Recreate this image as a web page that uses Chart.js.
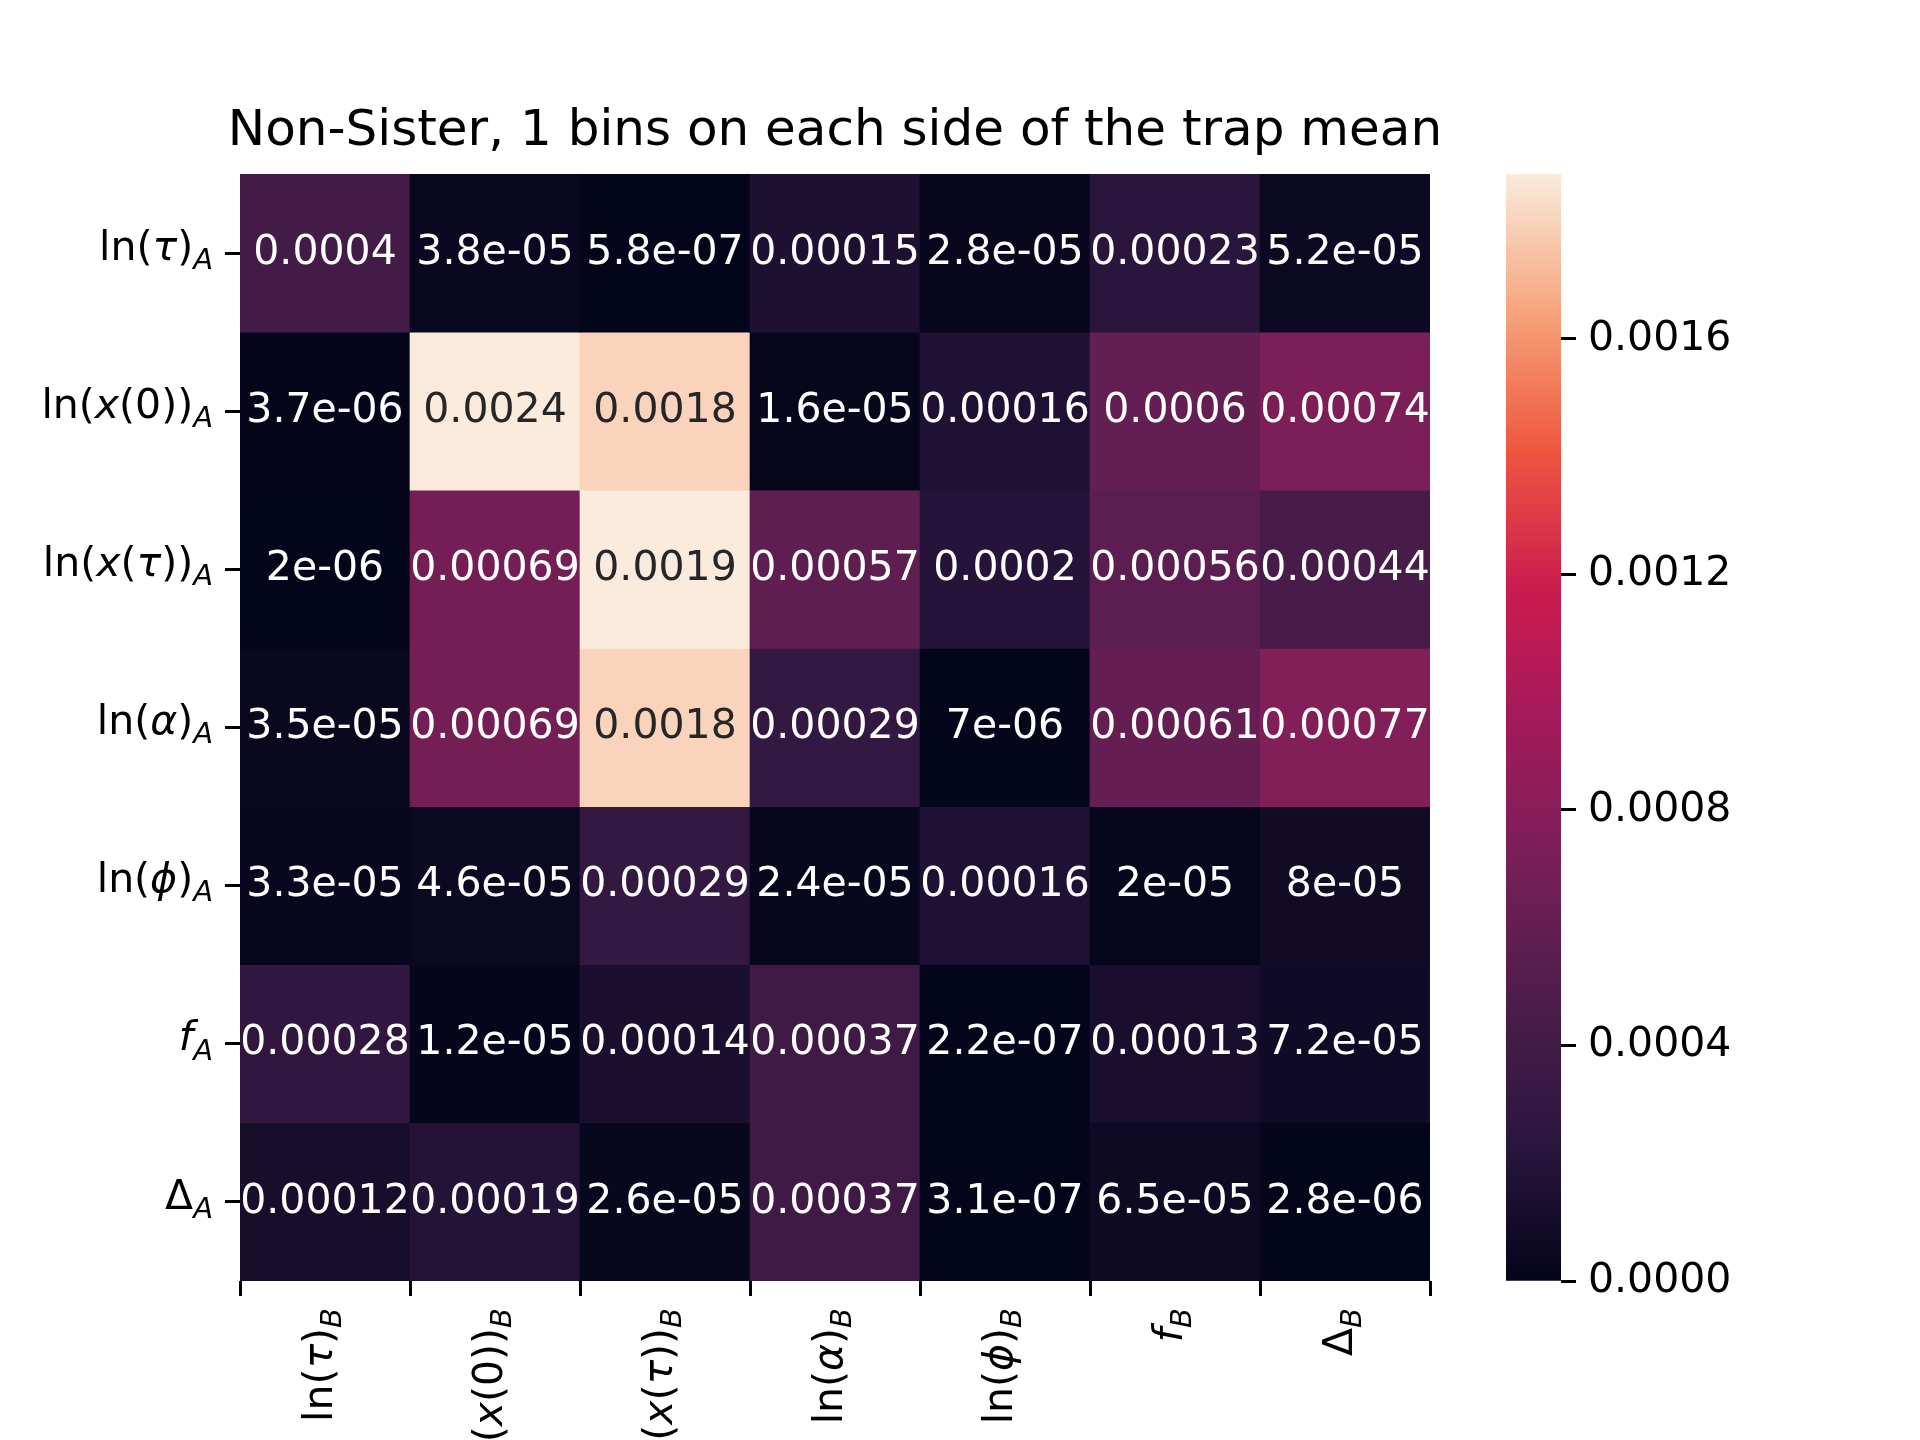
<!DOCTYPE html>
<html>
<head>
<meta charset="utf-8">
<script src="https://cdn.jsdelivr.net/npm/chart.js@4.4.1/dist/chart.umd.min.js"></script>
<style>
  body { margin: 0; background: #fff; }
  #wrap { position: relative; width: 1920px; height: 1440px; }
  canvas { position: absolute; left: 0; top: 0; }
</style>
</head>
<body>
<div id="wrap">
  <canvas id="heat" width="1920" height="1440"></canvas>
  <canvas id="cbar" width="1920" height="1440"></canvas>
</div>
<script>
const TITLE = "Non-Sister, 1 bins on each side of the trap mean";

// label parts: [text, italic]
const ROW_LABELS = [
  [[["ln(", false], ["τ", true], [")", false]], "A"],
  [[["ln(", false], ["x", true], ["(0))", false]], "A"],
  [[["ln(", false], ["x", true], ["(", false], ["τ", true], ["))", false]], "A"],
  [[["ln(", false], ["α", true], [")", false]], "A"],
  [[["ln(", false], ["ϕ", true], [")", false]], "A"],
  [[["f", true]], "A"],
  [[["Δ", false]], "A"]
];
const COL_LABELS = ROW_LABELS.map(l => [l[0], "B"]);
const COLUMNS = ["ln(tau)_B", "ln(x(0))_B", "ln(x(tau))_B", "ln(alpha)_B", "ln(phi)_B", "f_B", "Delta_B"];

const ROW0 = [0.0004, 3.8e-5, 5.8e-7, 0.00015, 2.8e-5, 0.00023, 5.2e-5];
const ROW1 = [3.7e-6, 0.0024, 0.0018, 1.6e-5, 0.00016, 0.0006, 0.00074];
const ROW2 = [2e-6, 0.00069, 0.0019, 0.00057, 0.0002, 0.00056, 0.00044];
const ROW3 = [3.5e-5, 0.00069, 0.0018, 0.00029, 7e-6, 0.00061, 0.00077];
const ROW4 = [3.3e-5, 4.6e-5, 0.00029, 2.4e-5, 0.00016, 2e-5, 8e-5];
const ROW5 = [0.00028, 1.2e-5, 0.00014, 0.00037, 2.2e-7, 0.00013, 7.2e-5];
const ROW6 = [0.00012, 0.00019, 2.6e-5, 0.00037, 3.1e-7, 6.5e-5, 2.8e-6];
const ROWS = [ROW0, ROW1, ROW2, ROW3, ROW4, ROW5, ROW6];

const VMAX = 0.00188;
const CB_TICKS = [0, 0.0004, 0.0008, 0.0012, 0.0016];

// rocket colormap approximation
const STOPS = [
  [0.0, [3, 5, 26]], [0.125, [43, 22, 62]], [0.25, [76, 29, 75]],
  [0.375, [118, 31, 87]], [0.5, [161, 26, 91]], [0.625, [203, 27, 79]],
  [0.75, [238, 86, 63]], [0.875, [246, 164, 123]], [1.0, [250, 235, 221]]
];
function rocket(t) {
  t = Math.max(0, Math.min(1, t));
  for (let i = 1; i < STOPS.length; i++) {
    if (t <= STOPS[i][0]) {
      const [t0, c0] = STOPS[i - 1], [t1, c1] = STOPS[i];
      const f = (t - t0) / (t1 - t0);
      const c = c0.map((v, k) => Math.round(v + (c1[k] - v) * f));
      return `rgb(${c[0]},${c[1]},${c[2]})`;
    }
  }
  return "rgb(250,235,221)";
}

const FONT = "DejaVu Sans";
const FS = 41;

function fmt(v) {
  // like python's '.2g'
  let s = Number(v.toPrecision(2));
  if (s !== 0 && (Math.abs(s) < 1e-4)) {
    let e = s.toExponential(1).replace(/\.0e/, "e");
    return e.replace(/e-(\d)$/, "e-0$1");
  }
  return String(s);
}

function richWidth(ctx, parts, sub) {
  let w = 0;
  parts.forEach(([t, it]) => { ctx.font = (it ? "italic " : "") + FS + "px " + FONT; w += ctx.measureText(t).width; });
  ctx.font = "italic " + Math.round(FS * 0.7) + "px " + FONT;
  w += ctx.measureText(sub).width;
  return w;
}
function drawRich(ctx, parts, sub, x, y) {
  ctx.textBaseline = "middle";
  ctx.textAlign = "left";
  parts.forEach(([t, it]) => {
    ctx.font = (it ? "italic " : "") + FS + "px " + FONT;
    ctx.fillText(t, x, y);
    x += ctx.measureText(t).width;
  });
  ctx.font = "italic " + Math.round(FS * 0.7) + "px " + FONT;
  ctx.fillText(sub, x, y + FS * 0.3);
}

const labelPlugin = {
  id: "labels",
  afterDraw(chart) {
    const ctx = chart.ctx, xs = chart.scales.x, ys = chart.scales.y;
    ctx.save();
    ctx.fillStyle = "#000";
    // title
    ctx.font = "50px " + FONT;
    ctx.textAlign = "center";
    ctx.textBaseline = "middle";
    ctx.fillText(TITLE, (chart.chartArea.left + chart.chartArea.right) / 2, 132);
    // cell annotations
    ctx.font = FS + "px " + FONT;
    ROWS.forEach((row, j) => {
      row.forEach((v, i) => {
        ctx.fillStyle = v / VMAX > 0.85 ? "#262626" : "#fff";
        ctx.textAlign = "center";
        ctx.textBaseline = "middle";
        ctx.fillText(fmt(v), xs.getPixelForValue(i), ys.getPixelForValue(j + 0.5));
      });
    });
    ctx.fillStyle = "#000";
    // y labels
    ROW_LABELS.forEach(([parts, sub], j) => {
      const w = richWidth(ctx, parts, sub);
      drawRich(ctx, parts, sub, chart.chartArea.left - 15 - 12 - w, ys.getPixelForValue(j + 0.5) - 4);
    });
    // x labels rotated
    COL_LABELS.forEach(([parts, sub], i) => {
      const w = richWidth(ctx, parts, sub);
      ctx.save();
      ctx.translate(xs.getPixelForValue(i) - 4, chart.chartArea.bottom + 15 + 12);
      ctx.rotate(-Math.PI / 2);
      drawRich(ctx, parts, sub, -w, 0);
      ctx.restore();
    });
    ctx.restore();
  }
};

new Chart(document.getElementById("heat"), {
  type: "bar",
  data: {
    labels: COLUMNS,
    datasets: ROWS.map((row, j) => ({
      label: "row" + j,
      data: row.map(() => 1),
      backgroundColor: row.map(v => rocket(v / VMAX)),
      borderWidth: 0,
      barPercentage: 1,
      categoryPercentage: 1
    }))
  },
  options: {
    responsive: false,
    animation: false,
    layout: { padding: { top: 174, right: 490, left: 0, bottom: 0 } },
    plugins: { legend: { display: false }, tooltip: { enabled: false } },
    scales: {
      x: {
        stacked: true,
        grid: { drawOnChartArea: false, tickLength: 15, tickWidth: 3, color: "#000" },
        border: { display: false },
        ticks: { callback: () => "" },
        afterFit(s) { s.height = 159; }
      },
      y: {
        stacked: true,
        reverse: true,
        min: 0, max: 7,
        afterBuildTicks(s) { s.ticks = [0.5, 1.5, 2.5, 3.5, 4.5, 5.5, 6.5].map(v => ({ value: v })); },
        grid: { drawOnChartArea: false, tickLength: 15, tickWidth: 3, color: "#000" },
        border: { display: false },
        ticks: { callback: () => "" },
        afterFit(s) { s.width = 240; }
      }
    }
  },
  plugins: [labelPlugin]
});

new Chart(document.getElementById("cbar"), {
  type: "bar",
  data: {
    labels: ["cb"],
    datasets: [{
      data: [[0, VMAX]],
      borderWidth: 0,
      barPercentage: 1,
      categoryPercentage: 1,
      backgroundColor(c) {
        const ca = c.chart.chartArea;
        if (!ca) return "#000";
        const g = c.chart.ctx.createLinearGradient(0, ca.bottom, 0, ca.top);
        for (let k = 0; k <= 40; k++) g.addColorStop(k / 40, rocket(k / 40));
        return g;
      }
    }]
  },
  options: {
    responsive: false,
    animation: false,
    layout: { padding: { top: 174, left: 1506, right: 0, bottom: 0 } },
    plugins: { legend: { display: false }, tooltip: { enabled: false } },
    scales: {
      x: { display: false, afterFit(s) { s.height = 159; } },
      y: {
        position: "right",
        min: 0, max: VMAX,
        afterBuildTicks(s) { s.ticks = CB_TICKS.map(v => ({ value: v })); },
        grid: { drawOnChartArea: false, tickLength: 15, tickWidth: 3, color: "#000" },
        border: { display: false },
        ticks: { color: "#000", padding: 12, font: { family: FONT, size: FS }, callback: v => v.toFixed(4) },
        afterFit(s) { s.width = 359; }
      }
    }
  }
});
</script>
</body>
</html>
